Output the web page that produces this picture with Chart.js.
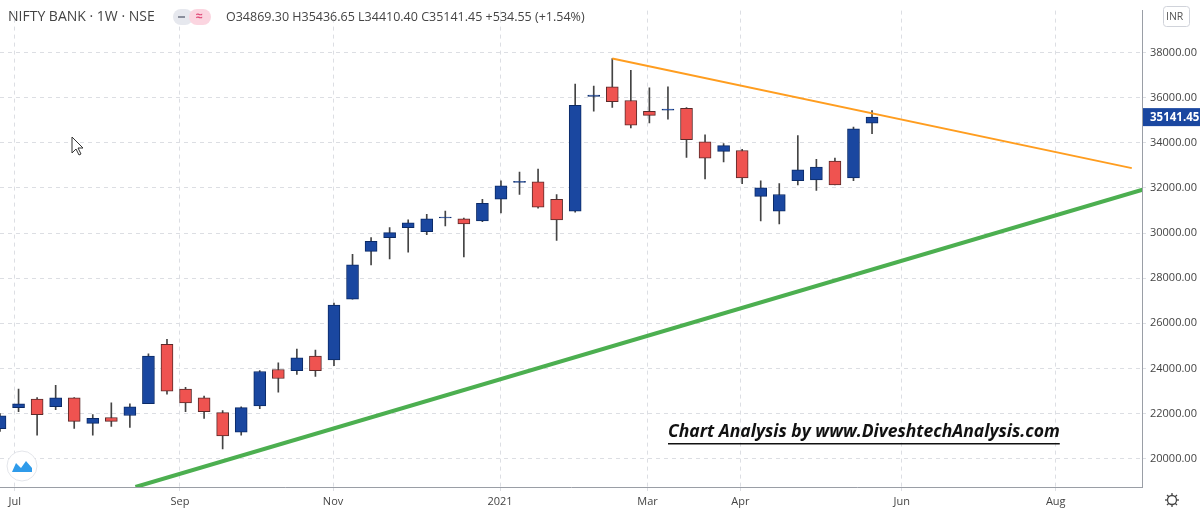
<!DOCTYPE html>
<html>
<head>
<meta charset="utf-8">
<script src="https://cdn.jsdelivr.net/npm/chart.js@4.4.1/dist/chart.umd.min.js"></script>
<style>
  html, body { margin: 0; padding: 0; background: #fff; }
  #wrap { width: 1200px; height: 510px; position: relative; }
</style>
</head>
<body>
<div id="wrap"><canvas id="c" width="1200" height="510"></canvas></div>
<script>
// weekly candles, NIFTY BANK
const opens  = [21330, 22260, 22640, 22300, 22690, 21560, 21820, 21910, 22430, 25070, 23080, 22690, 22040, 21170, 22340, 23950, 23900, 24550,
                24380, 27070, 29190, 29800, 30240, 30060, 30670, 30630, 30540, 31500, 32250, 32270, 31500, 30970, 36060, 36480, 35880, 35400,
                35450, 35530, 34050, 33620, 33660, 31630, 30970, 32320, 32360, 33190, 32450, 34869.30];
const highs  = [22000, 23080, 22700, 23250, 22700, 21950, 22470, 22430, 24640, 25290, 23160, 22770, 22130, 22300, 23900, 24250, 24860, 24810,
                26900, 29060, 29800, 30240, 30590, 30830, 30970, 30670, 31500, 32320, 32710, 32840, 31710, 36610, 36520, 37740, 37220, 36440,
                36480, 35570, 34360, 33970, 33710, 32320, 32190, 34320, 33270, 33320, 34700, 35436.65];
const lows   = [21200, 22080, 21040, 22170, 21340, 21040, 21430, 21380, 22430, 22860, 22080, 21780, 20430, 21040, 22210, 22950, 23730, 23640,
                24120, 27070, 28590, 28850, 29150, 29930, 30320, 28940, 30500, 30890, 31710, 31100, 29670, 30930, 35400, 35570, 34660, 34880,
                35050, 33360, 32400, 33150, 32190, 30540, 30410, 32140, 31890, 32140, 32320, 34410.40];
const closes = [21900, 22430, 21950, 22690, 21650, 21780, 21650, 22300, 24550, 22990, 22470, 22080, 21000, 22260, 23860, 23550, 24470, 23900,
                26810, 28590, 29630, 30020, 30450, 30630, 30700, 30410, 31320, 32100, 32290, 31150, 30580, 35660, 36120, 35830, 34790, 35220,
                35500, 34140, 33320, 33880, 32450, 32010, 31710, 32800, 32930, 32140, 34620, 35141.45];

// drawn trend lines [weekIndex, price]
const resistanceLine = [[33, 37740], [61, 32880]];
const supportLine    = [[7.3, 18740], [61.6, 31930]];

// time axis labels at week positions
const monthTickPos    = [0.8, 9.7, 17.95, 26.95, 34.9, 39.9, 48.6, 56.9];
const monthTickLabels = ['Jul', 'Sep', 'Nov', '2021', 'Mar', 'Apr', 'Jun', 'Aug'];
const priceTicks = [20000, 22000, 24000, 26000, 28000, 30000, 32000, 34000, 36000, 38000];

const BLUE = '#1a47a0', RED = '#ef5350';
const up = opens.map((o, i) => closes[i] >= o);

const bodies = opens.map((o, i) => ({ x: i, y: [o, closes[i]] }));
const wicks  = opens.map((o, i) => ({ x: i, y: [lows[i], highs[i]] }));

const overlay = {
  id: 'overlay',
  afterDraw(chart) {
    const ctx = chart.ctx;
    const ys = chart.scales.y;
    ctx.save();
    // header
    ctx.fillStyle = '#444';
    ctx.font = '14px "Open Sans", sans-serif';
    ctx.textBaseline = 'middle';
    ctx.fillText('NIFTY BANK · 1W · NSE', 8, 17);
    ctx.fillStyle = '#e6e8ee';
    ctx.beginPath(); ctx.roundRect(173, 9, 20, 16, 8); ctx.fill();
    ctx.fillStyle = '#fbd5e0';
    ctx.beginPath(); ctx.roundRect(189, 9, 22, 16, 8); ctx.fill();
    ctx.fillStyle = '#8a8f9c'; ctx.fillRect(178, 16, 7, 2);
    ctx.fillStyle = '#e04a78'; ctx.font = 'bold 12px sans-serif'; ctx.fillText('≈', 196, 17);
    ctx.fillStyle = '#444';
    ctx.font = '12.5px "Open Sans", sans-serif';
    ctx.fillText('O34869.30 H35436.65 L34410.40 C35141.45 +534.55 (+1.54%)', 226, 17);
    // INR box
    ctx.strokeStyle = '#d0d3da'; ctx.lineWidth = 1;
    ctx.beginPath(); ctx.roundRect(1163.5, 6.5, 26, 20, 3); ctx.stroke();
    ctx.fillStyle = '#555'; ctx.font = '10.5px "Open Sans", sans-serif';
    ctx.fillText('INR', 1166, 17);
    // last price label
    const py = ys.getPixelForValue(closes[closes.length - 1]);
    ctx.fillStyle = '#1a47a0';
    ctx.fillRect(1143, py - 9, 57, 18);
    ctx.fillStyle = '#fff'; ctx.font = 'bold 11.5px "Open Sans", sans-serif';
    ctx.fillText('35141.45', 1150, py + 1);
    // watermark text
    ctx.fillStyle = '#111';
    ctx.font = 'italic bold 17.5px "Open Sans", sans-serif';
    const t = 'Chart Analysis by www.DiveshtechAnalysis.com';
    ctx.fillText(t, 668, 432);
    const w = ctx.measureText(t).width;
    ctx.fillRect(668, 443, w, 1.5);
    // logo
    ctx.fillStyle = '#fff'; ctx.strokeStyle = '#e3e5ea';
    ctx.beginPath(); ctx.arc(22, 466, 15, 0, Math.PI * 2); ctx.fill(); ctx.stroke();
    ctx.fillStyle = '#2f9bea';
    ctx.beginPath(); ctx.moveTo(12, 472); ctx.lineTo(16, 463); ctx.lineTo(21, 468); ctx.lineTo(26, 461); ctx.lineTo(32, 468); ctx.lineTo(32, 472); ctx.closePath(); ctx.fill();
    // gear
    ctx.strokeStyle = '#444'; ctx.lineWidth = 1.3;
    ctx.beginPath(); ctx.arc(1172, 500, 4.5, 0, Math.PI * 2); ctx.stroke();
    for (let k = 0; k < 8; k++) {
      const a = k * Math.PI / 4;
      ctx.beginPath();
      ctx.moveTo(1172 + Math.cos(a) * 4.5, 500 + Math.sin(a) * 4.5);
      ctx.lineTo(1172 + Math.cos(a) * 7, 500 + Math.sin(a) * 7);
      ctx.stroke();
    }
    // cursor
    ctx.fillStyle = '#fff'; ctx.strokeStyle = '#333'; ctx.lineWidth = 1;
    ctx.beginPath(); ctx.moveTo(72, 137); ctx.lineTo(72, 153); ctx.lineTo(76, 149); ctx.lineTo(79, 155); ctx.lineTo(81, 154); ctx.lineTo(78, 148); ctx.lineTo(83, 148); ctx.closePath(); ctx.fill(); ctx.stroke();
    ctx.restore();
  }
};

new Chart(document.getElementById('c'), {
  type: 'bar',
  data: {
    datasets: [
      {
        type: 'line', data: supportLine.map(p => ({ x: p[0], y: p[1] })),
        borderColor: '#4caf50', borderWidth: 4, pointRadius: 0, order: 0
      },
      {
        type: 'line', data: resistanceLine.map(p => ({ x: p[0], y: p[1] })),
        borderColor: '#ff9d1f', borderWidth: 2, pointRadius: 0, order: 0
      },
      {
        data: bodies, barThickness: 12, grouped: false, order: 1, borderSkipped: false,
        minBarLength: 1,
        backgroundColor: up.map(u => u ? BLUE : RED),
        borderColor: up.map(u => u ? '#0b2a66' : '#5a2a2a'),
        borderWidth: 1
      },
      {
        data: wicks, barThickness: 1, grouped: false, order: 2,
        backgroundColor: '#444', borderWidth: 0
      }
    ]
  },
  options: {
    responsive: false,
    animation: false,
    layout: { padding: 0 },
    plugins: { legend: { display: false }, tooltip: { enabled: false } },
    scales: {
      x: {
        type: 'linear', min: 0, max: 61.55, offset: false,
        afterBuildTicks: s => { s.ticks = monthTickPos.map(v => ({ value: v })); },
        afterFit: s => { s.height = 23; },
        ticks: {
          autoSkip: false, maxRotation: 0, color: '#444', padding: 4,
          font: { size: 11, family: '"Open Sans", sans-serif' },
          callback: (v, i) => monthTickLabels[i]
        },
        grid: { color: '#dcdee3', tickLength: 4, drawTicks: true, offset: false },
        border: { color: '#9a9ea6', dash: [4, 4] }
      },
      y: {
        position: 'right', min: 18740, max: 39865,
        afterBuildTicks: s => { s.ticks = priceTicks.map(v => ({ value: v })); },
        afterFit: s => { s.width = 58; },
        ticks: {
          color: '#444', padding: 4, crossAlign: 'near',
          font: { size: 11, family: '"Open Sans", sans-serif' },
          callback: v => v.toFixed(2)
        },
        grid: { color: '#dcdee3', tickLength: 4 },
        border: { color: '#9a9ea6', dash: [4, 4] }
      }
    }
  },
  plugins: [overlay]
});
</script>
</body>
</html>
